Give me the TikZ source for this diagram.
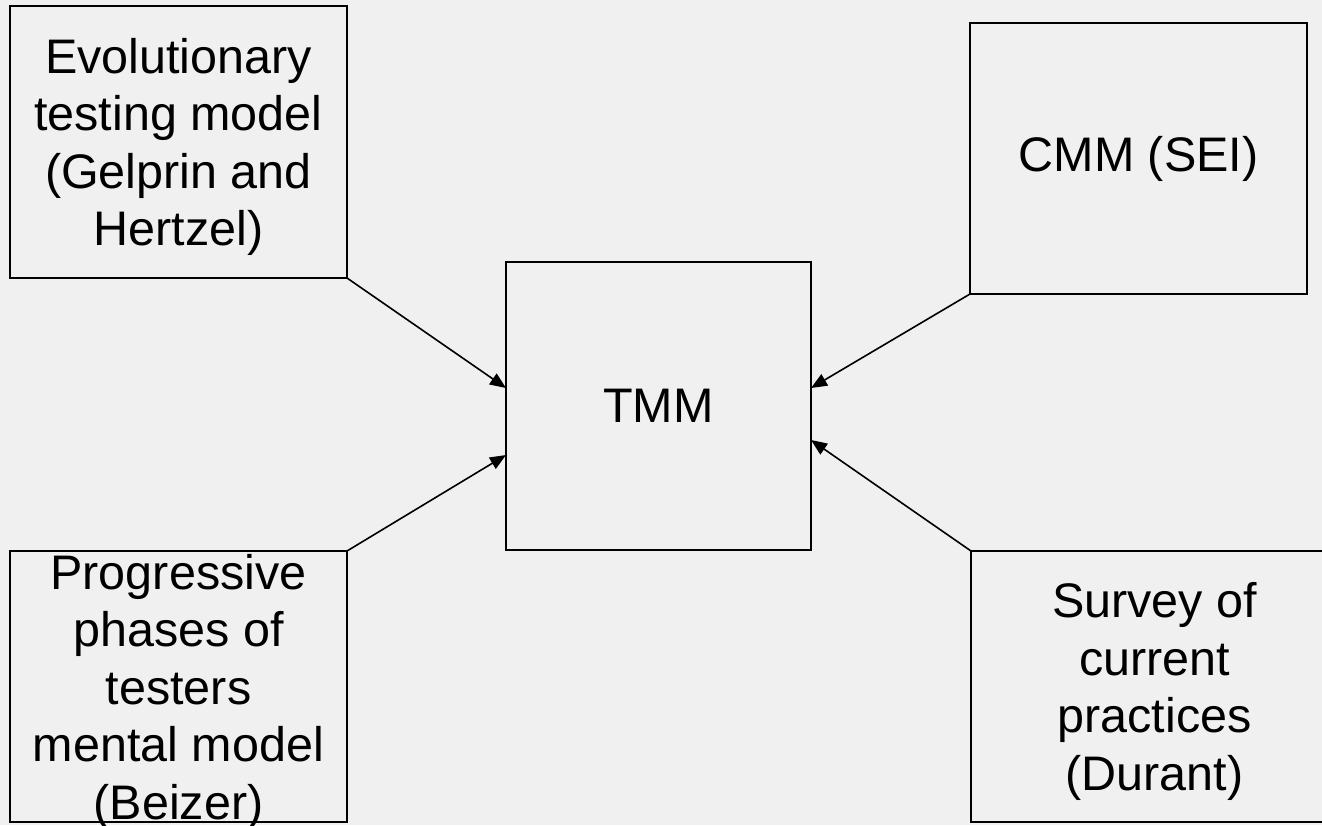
\documentclass[tikz,border=0pt]{standalone}
\usepackage{fontspec}
\setmainfont{Liberation Sans}
\usetikzlibrary{arrows.meta}
\definecolor{bgcol}{HTML}{F0F0F0}
\tikzset{
  box/.style={draw=black, line width=2pt, inner sep=0pt, outer sep=0pt, anchor=north west},
  txt/.style={align=center, inner sep=0pt, font=\fontsize{48.5}{57.5}\selectfont},
  conn/.style={line width=1.6pt, -{Triangle[length=16pt,width=13pt]}}
}
\begin{document}
\begin{tikzpicture}[x=1pt,y=-1pt]
\useasboundingbox (0,0) rectangle (1322,825);
\fill[bgcol] (0,0) rectangle (1322,825);
\clip (0,0) rectangle (1322,825);
\node[box, minimum width=337pt, minimum height=272pt] (tl) at (10,6) {};
\node[box, minimum width=337pt, minimum height=271pt] (tr) at (970,23) {};
\node[box, minimum width=305pt, minimum height=288pt] (tmm) at (506,262) {};
\node[box, minimum width=337pt, minimum height=271pt] (bl) at (10,551) {};
\node[box, minimum width=367pt, minimum height=271pt] (br) at (971,551) {};
\node[txt, yshift=-5pt] (tltext) at (tl.center) {Evolutionary\\testing model\\(Gelprin and\\Hertzel)};
\node[txt] (trtext) at (tr.center) {CMM (SEI)};
\node[txt] (tmmtext) at (tmm.center) {TMM};
\node[txt, yshift=-5pt] (bltext) at (bl.center) {Progressive\\phases of\\testers\\mental model\\(Beizer)};
\node[txt, yshift=-5pt] (brtext) at (br.center) {Survey of\\current\\practices\\(Durant)};
\draw[conn] (tl.south east) -- ([yshift=18pt]tmm.west);
\draw[conn] (bl.north east) -- ([yshift=-49pt]tmm.west);
\draw[conn] (tr.south west) -- ([yshift=18pt]tmm.east);
\draw[conn] (br.north west) -- ([yshift=-34pt]tmm.east);
\end{tikzpicture}
\end{document}
